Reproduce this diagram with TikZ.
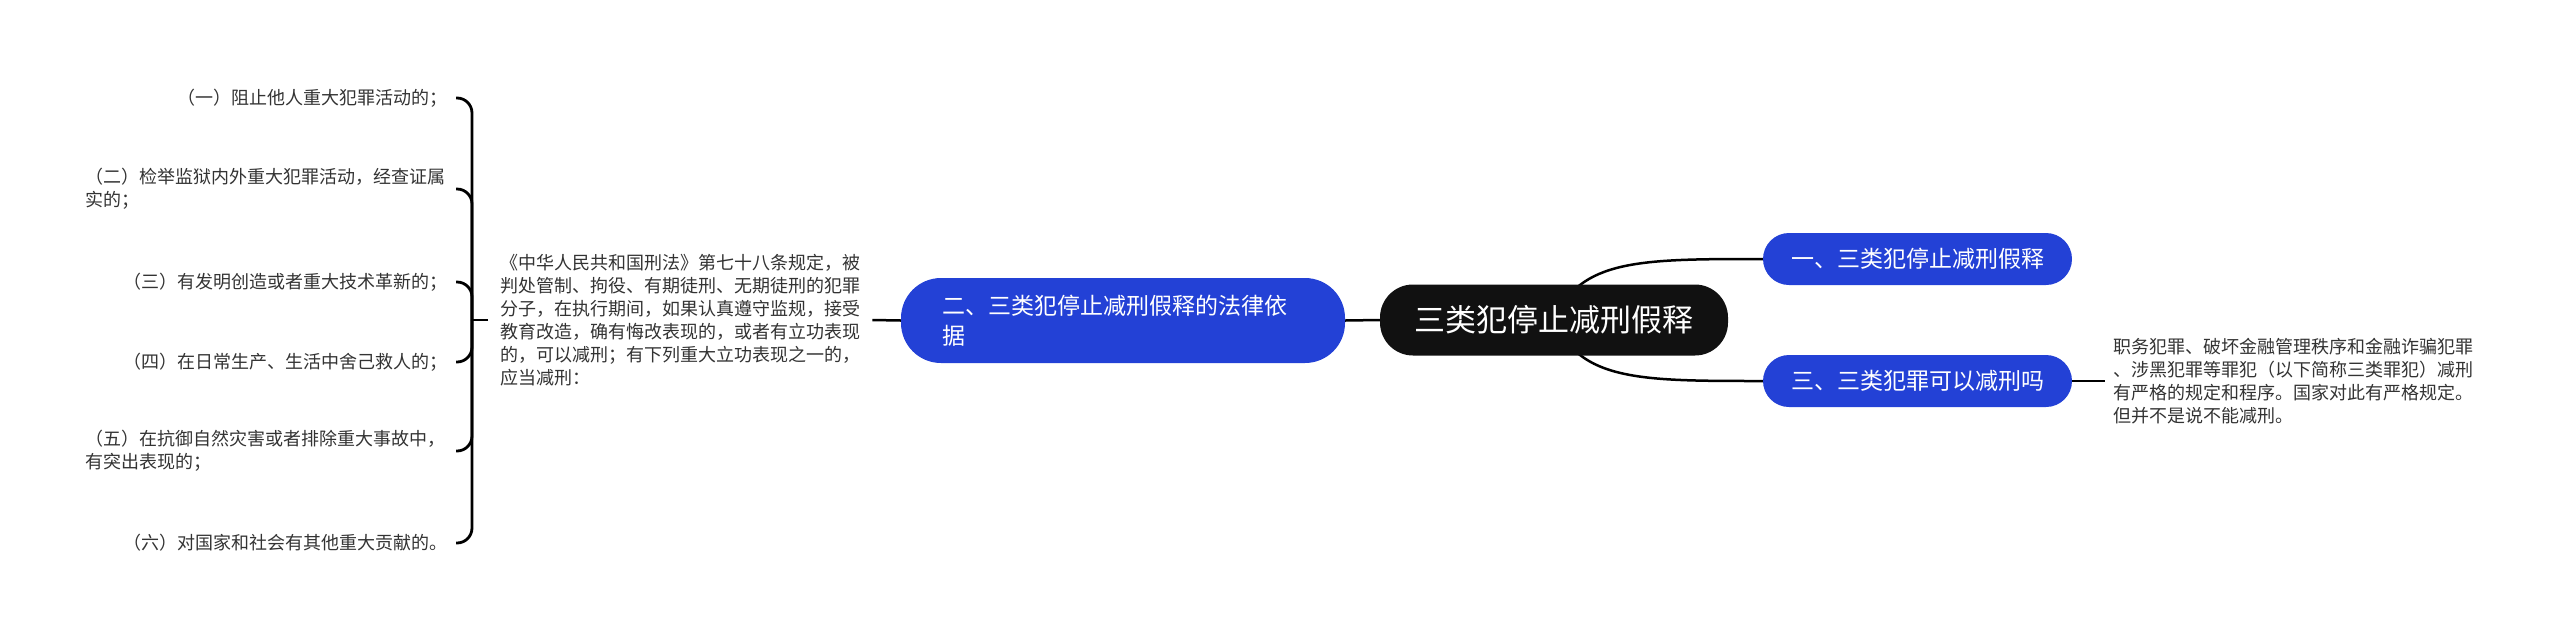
\documentclass[tikz,border=0pt]{standalone}
\usepackage{fontspec}
\setmainfont{Noto Sans CJK SC}
\usetikzlibrary{backgrounds}
\definecolor{mblue}{HTML}{2341D6}
\definecolor{mroot}{HTML}{111111}
\definecolor{mtext}{HTML}{333333}
\begin{document}
\begin{tikzpicture}[x=1pt,y=-1pt,
  small/.style={font=\fontsize{18pt}{23pt}\selectfont, text=mtext, inner xsep=8pt, inner ysep=2pt},
  mnode/.style={fill=mblue, text=white, rounded corners=26pt, font=\fontsize{23pt}{30pt}\selectfont, minimum width=309pt, minimum height=52pt, inner sep=0pt},
  rootnode/.style={fill=mroot, text=white, rounded corners=33pt, font=\fontsize{31pt}{36pt}\selectfont, minimum width=348pt, minimum height=71pt, inner sep=0pt},
  conn/.style={line width=2.5pt, black},
  brk/.style={line width=2.8pt, black, rounded corners=15pt}
]
\useasboundingbox (0,0) rectangle (2560,641);

\node[rootnode] (root) at (1554,320) {三类犯停止减刑假释};
\node[mnode] (n1) at (1917.5,259) {一、三类犯停止减刑假释};
\node[mnode] (n3) at (1917.5,381) {三、三类犯罪可以减刑吗};
\node[mnode, minimum width=444pt, minimum height=85pt, rounded corners=40pt, text width=362pt, align=left] (n2) at (1123,320.5) {二、三类犯停止减刑假释的法律依\\据};

\node[small, anchor=west, align=left] (t3) at (2105,381) {职务犯罪、破坏金融管理秩序和金融诈骗犯罪\\、涉黑犯罪等罪犯（以下简称三类罪犯）减刑\\有严格的规定和程序。国家对此有严格规定。\\但并不是说不能减刑。};

\node[small, anchor=west, align=left, inner xsep=12pt] (para) at (488,320) {《中华人民共和国刑法》第七十八条规定，被\\判处管制、拘役、有期徒刑、无期徒刑的犯罪\\分子，在执行期间，如果认真遵守监规，接受\\教育改造，确有悔改表现的，或者有立功表现\\的，可以减刑；有下列重大立功表现之一的，\\应当减刑：};

\node[small, anchor=east] (i1) at (456,98) {（一）阻止他人重大犯罪活动的；};
\node[small, anchor=east, text width=362pt, align=left] (i2) at (456,189) {（二）检举监狱内外重大犯罪活动，经查证属\\实的；};
\node[small, anchor=east] (i3) at (456,282) {（三）有发明创造或者重大技术革新的；};
\node[small, anchor=east] (i4) at (456,362) {（四）在日常生产、生活中舍己救人的；};
\node[small, anchor=east, text width=362pt, align=left] (i5) at (456,451) {（五）在抗御自然灾害或者排除重大事故中，\\有突出表现的；};
\node[small, anchor=east] (i6) at (456,543) {（六）对国家和社会有其他重大贡献的。};

\coordinate (j) at (472,320);

\begin{scope}[on background layer]
  \draw[conn] (root.center) .. controls (1580,259) and (1640,259) .. (n1.west);
  \draw[conn] (root.center) .. controls (1580,381) and (1640,381) .. (n3.west);
  \draw[conn] (root.west) -- (n2.east);
  \draw[conn] (n3.east) -- (t3.west);
  \draw[conn] (n2.west) -- (para.east);
  \draw[brk] (para.west) -- (j);
  \draw[brk] (j) |- (i1.east);
  \draw[brk] (j) |- (i2.east);
  \draw[brk] (j) |- (i3.east);
  \draw[brk] (j) |- (i4.east);
  \draw[brk] (j) |- (i5.east);
  \draw[brk] (j) |- (i6.east);
\end{scope}
\end{tikzpicture}
\end{document}
